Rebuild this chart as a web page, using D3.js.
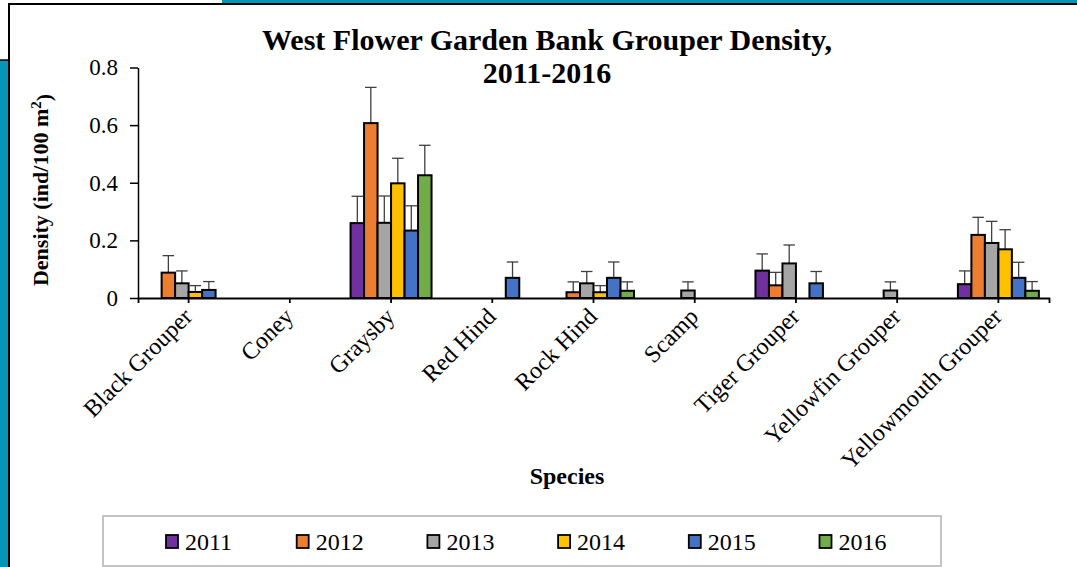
<!DOCTYPE html>
<html>
<head>
<meta charset="utf-8">
<script src="https://cdn.jsdelivr.net/npm/d3@7"></script>
<style>
  body { margin: 0; background: #fff; }
  svg text { font-family: "Liberation Serif", serif; }
</style>
</head>
<body>
<svg id="chart" width="1077" height="567" font-family="Liberation Serif"></svg>
<script>
// species on x axis
var species = ["Black Grouper", "Coney", "Graysby", "Red Hind", "Rock Hind",
    "Scamp", "Tiger Grouper", "Yellowfin Grouper", "Yellowmouth Grouper"];
var years = ["2011", "2012", "2013", "2014", "2015", "2016"];
var yearColors = ["#7030A0", "#ED7D31", "#A5A5A5", "#FFC000", "#4472C4", "#70AD47"];

// mean density per year, one value per species
var d2011 = [0, 0, 0.26, 0, 0, 0, 0.095, 0, 0.048];
var d2012 = [0.088, 0, 0.607, 0, 0.02, 0, 0.044, 0, 0.219];
var d2013 = [0.051, 0, 0.261, 0, 0.051, 0.026, 0.12, 0.026, 0.191];
var d2014 = [0.021, 0, 0.398, 0, 0.02, 0, 0, 0, 0.169];
var d2015 = [0.028, 0, 0.234, 0.07, 0.07, 0, 0.051, 0, 0.07];
var d2016 = [0, 0, 0.426, 0, 0.025, 0, 0, 0, 0.025];

// + error (standard error)
var e2011 = [0, 0, 0.093, 0, 0, 0, 0.058, 0, 0.046];
var e2012 = [0.059, 0, 0.124, 0, 0.036, 0, 0.045, 0, 0.061];
var e2013 = [0.043, 0, 0.093, 0, 0.041, 0.03, 0.064, 0.03, 0.075];
var e2014 = [0.022, 0, 0.087, 0, 0.023, 0, 0, 0, 0.068];
var e2015 = [0.029, 0, 0.086, 0.055, 0.055, 0, 0.041, 0, 0.054];
var e2016 = [0, 0, 0.104, 0, 0.031, 0, 0, 0, 0.032];

var yTicks = [0, 0.2, 0.4, 0.6, 0.8];

var means = [d2011, d2012, d2013, d2014, d2015, d2016];
var errs = [e2011, e2012, e2013, e2014, e2015, e2016];

var FONT = "Liberation Serif";
var svg = d3.select("#chart");

// frame bits round the picture
svg.append("rect").attr("x", 0).attr("y", 60).attr("width", 8).attr("height", 507).style("fill", "#0695B5");
svg.append("rect").attr("x", 222).attr("y", 0).attr("width", 855).attr("height", 3).style("fill", "#0695B5");
svg.append("line").attr("x1", 0).attr("x2", 9).attr("y1", 60).attr("y2", 60)
    .style("stroke", "#000").style("stroke-width", 1.5);
svg.append("line").attr("x1", 9).attr("x2", 1077).attr("y1", 4).attr("y2", 4)
    .style("stroke", "#000").style("stroke-width", 2);
svg.append("line").attr("x1", 9).attr("x2", 9).attr("y1", 3).attr("y2", 567)
    .style("stroke", "#000").style("stroke-width", 2);

var plotL = 138, plotR = 1049, plotT = 67.5, plotB = 298;

var x0 = d3.scaleBand().domain(species).range([plotL, plotR]).padding(0);
var groupW = x0.bandwidth() * 0.8;
var x1 = d3.scaleBand().domain(years).range([0, groupW]).padding(0);
var y = d3.scaleLinear().domain([0, 0.8]).range([plotB, plotT]);

// bars
var rows = [];
species.forEach(function(s, i) {
    years.forEach(function(yr, j) {
        rows.push({sp: s, year: yr, c: yearColors[j], v: means[j][i], e: errs[j][i]});
    });
});

var off = (x0.bandwidth() - groupW) / 2;
function barX(d) { return x0(d.sp) + off + x1(d.year); }
var g = svg.append("g");
var nz = rows.filter(function(d) { return d.v > 0; });

// error bars (plus only), under the bars
var capW = x1.bandwidth() - 2;
var eb = g.selectAll(".err").data(nz).enter().append("g").attr("class", "err")
    .style("stroke", "#404040").style("stroke-width", 1.3);
eb.append("line")
    .attr("x1", function(d) { return barX(d) + x1.bandwidth() / 2; })
    .attr("x2", function(d) { return barX(d) + x1.bandwidth() / 2; })
    .attr("y1", function(d) { return y(d.v); })
    .attr("y2", function(d) { return y(d.v + d.e); });
eb.append("line")
    .attr("x1", function(d) { return barX(d) + x1.bandwidth() / 2 - capW / 2; })
    .attr("x2", function(d) { return barX(d) + x1.bandwidth() / 2 + capW / 2; })
    .attr("y1", function(d) { return y(d.v + d.e); })
    .attr("y2", function(d) { return y(d.v + d.e); });

g.selectAll(".bar")
    .data(nz)
    .enter().append("rect")
    .attr("class", "bar")
    .attr("x", barX)
    .attr("y", function(d) { return y(d.v); })
    .attr("width", x1.bandwidth())
    .attr("height", function(d) { return y(0) - y(d.v); })
    .style("fill", function(d) { return d.c; })
    .style("stroke", "#000")
    .style("stroke-width", 2);

// y axis
var yAxis = svg.append("g")
    .attr("transform", "translate(" + plotL + ",0)")
    .call(d3.axisLeft(y).tickValues(yTicks).tickSize(8).tickSizeOuter(0).tickPadding(12)
        .tickFormat(function(d) { return d === 0 ? "0" : d3.format(".1f")(d); }))
    .attr("font-family", FONT);
yAxis.selectAll("text").style("font-size", "23px").style("font-family", FONT).style("fill", "#000");
yAxis.selectAll("line, path").style("stroke", "#000").style("stroke-width", 1.5);

// x axis, ticks at category centres
var xAxis = svg.append("g")
    .attr("transform", "translate(0," + plotB + ")")
    .call(d3.axisBottom(x0).tickSize(5).tickSizeOuter(5))
    .attr("font-family", FONT);
xAxis.selectAll("line, path").style("stroke", "#000").style("stroke-width", 1.8);
xAxis.selectAll("text")
    .style("font-size", "24px")
    .style("font-family", FONT)
    .style("fill", "#000")
    .style("text-anchor", "end")
    .attr("x", 0).attr("y", 0).attr("dy", "0")
    .attr("transform", "translate(5,20) rotate(-45)");

// titles
svg.append("text").attr("x", 547).attr("y", 50)
    .style("text-anchor", "middle").style("font-weight", "bold").style("font-size", "30px")
    .style("font-family", FONT)
    .text("West Flower Garden Bank Grouper Density,");
svg.append("text").attr("x", 547).attr("y", 83)
    .style("text-anchor", "middle").style("font-weight", "bold").style("font-size", "30px")
    .style("font-family", FONT)
    .text("2011-2016");

svg.append("text").attr("x", 567).attr("y", 484)
    .style("text-anchor", "middle").style("font-weight", "bold").style("font-size", "24px")
    .style("font-family", FONT)
    .text("Species");

var yl = svg.append("text")
    .attr("transform", "translate(48,190) rotate(-90)")
    .style("text-anchor", "middle").style("font-weight", "bold").style("font-size", "22px")
    .style("font-family", FONT);
yl.append("tspan").text("Density (ind/100 m");
yl.append("tspan").attr("dy", "-0.45em").style("font-size", "15px").text("2");
yl.append("tspan").attr("dy", "0.45em").text(")");

// legend
svg.append("rect").attr("x", 103).attr("y", 516).attr("width", 838).attr("height", 50)
    .style("fill", "#fff").style("stroke", "#c4c4c4").style("stroke-width", 2);
var lg = svg.selectAll(".leg").data(years).enter().append("g").attr("class", "leg")
    .attr("transform", function(d, i) { return "translate(" + (166 + i * 130.7) + ",535)"; });
lg.append("rect").attr("width", 12).attr("height", 13)
    .style("fill", function(d, i) { return yearColors[i]; })
    .style("stroke", "#000").style("stroke-width", 1.8);
lg.append("text").attr("x", 19).attr("y", 15)
    .style("font-size", "24px").style("font-family", FONT)
    .text(function(d) { return d; });
</script>
</body>
</html>
